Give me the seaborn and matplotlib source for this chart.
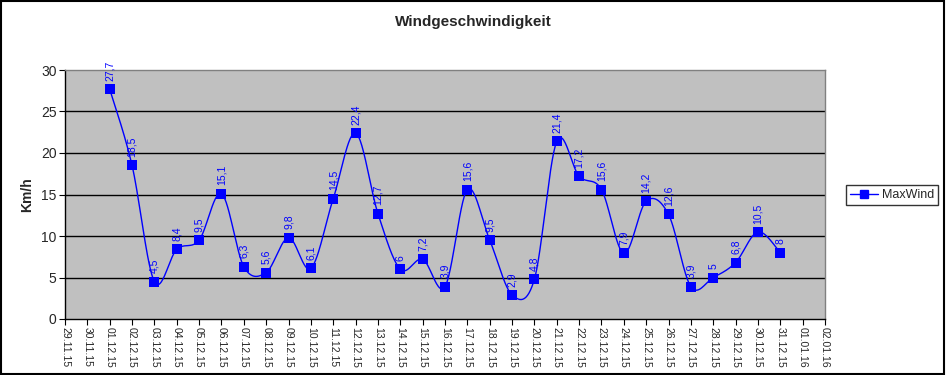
import numpy as np
import pandas as pd
import matplotlib
matplotlib.use("Agg")
import matplotlib.pyplot as plt
import seaborn as sns
from matplotlib.lines import Line2D
from matplotlib.patches import Rectangle

# ---- data ----
dates = ["29.11.15", "30.11.15"] + [f"{d:02d}.12.15" for d in range(1, 32)] + ["01.01.16", "02.01.16"]
value_dates = [f"{d:02d}.12.15" for d in range(1, 32)]
max_wind = [27.7, 18.5, 4.5, 8.4, 9.5, 15.1, 6.3, 5.6, 9.8, 6.1, 14.5, 22.4, 12.7, 6.0, 7.2,
            3.9, 15.6, 9.5, 2.9, 4.8, 21.4, 17.2, 15.6, 7.9, 14.2, 12.6, 3.9, 5.0, 6.8, 10.5, 8.0]
value_labels = ["27,7", "18,5", "4,5", "8,4", "9,5", "15,1", "6,3", "5,6", "9,8", "6,1", "14,5",
                "22,4", "12,7", "6", "7,2", "3,9", "15,6", "9,5", "2,9", "4,8", "21,4", "17,2",
                "15,6", "7,9", "14,2", "12,6", "3,9", "5", "6,8", "10,5", "8"]
title = "Windgeschwindigkeit"
ylabel = "Km/h"
series_name = "MaxWind"

sns.set_theme(style="white")
plt.rcParams['font.family'] = ['Liberation Sans', 'DejaVu Sans']

df = pd.DataFrame({"date": value_dates, "wind": max_wind})
df["x"] = [dates.index(d) for d in df["date"]]

fig = plt.figure(figsize=(9.46, 3.75), dpi=100)
ax = fig.add_axes([65/946, 1-319/375, (825-65)/946, (319-70)/375])
ax.set_facecolor("#C0C0C0")

# smoothed line (Excel-like bezier smoothing rendering)
xs = df["x"].to_numpy(float)
ys = df["wind"].to_numpy(float)
P = np.column_stack([xs, ys])
n = len(P)
curve = []
t = np.linspace(0, 1, 30)
for i in range(n - 1):
    p0 = P[max(i - 1, 0)]
    p1 = P[i]
    p2 = P[i + 1]
    p3 = P[min(i + 2, n - 1)]
    c1 = p1 + (p2 - p0) / 6
    c2 = p2 - (p3 - p1) / 6
    seg = ((1 - t)[:, None] ** 3) * p1 + 3 * ((1 - t)[:, None] ** 2) * t[:, None] * c1 \
        + 3 * (1 - t)[:, None] * (t[:, None] ** 2) * c2 + (t[:, None] ** 3) * p2
    curve.append(seg)
curve = np.vstack(curve)
ax.plot(curve[:, 0], curve[:, 1], color="#0000FF", lw=1.0, zorder=3)

sns.scatterplot(data=df, x="x", y="wind", marker="s", s=42, color="#0000FF",
                edgecolor="#0000FF", linewidth=0, ax=ax, zorder=4, legend=False)

for xv, yv, lab in zip(df["x"], df["wind"], value_labels):
    ax.annotate(lab, (xv, yv), xytext=(0, 6), textcoords="offset points",
                rotation=90, ha="center", va="bottom", fontsize=7.5, color="#0000FF",
                zorder=5, annotation_clip=False)

ax.set_xlim(0, len(dates) - 1)
ax.set_ylim(0, 30)
ax.set_xticks(range(len(dates)))
ax.set_xticklabels(dates, rotation=-90, fontsize=7.5)
ax.set_yticks([0, 5, 10, 15, 20, 25, 30])
ax.set_yticklabels(["0", "5", "10", "15", "20", "25", "30"], fontsize=10)
ax.tick_params(axis="both", which="both", length=4, width=0.8, color="black",
               direction="out", bottom=True, left=True, pad=2)
for yv in [5, 10, 15, 20, 25]:
    ax.axhline(yv, color="black", lw=1.0, zorder=1)
ax.set_xlabel("")
ax.set_ylabel(ylabel, fontsize=10, fontweight="bold", labelpad=5)
for side in ["left", "bottom"]:
    ax.spines[side].set_color("black")
    ax.spines[side].set_linewidth(1.0)
for side in ["top", "right"]:
    ax.spines[side].set_color("#808080")
    ax.spines[side].set_linewidth(1.0)

fig.text(473/946, 1-22/375, title, ha="center", va="center", fontsize=11, fontweight="bold")

handle = Line2D([0], [0], color="#0000FF", lw=1.0, marker="s", markersize=6,
                markerfacecolor="#0000FF", markeredgecolor="#0000FF")
leg = fig.legend([handle], [series_name], loc="center", bbox_to_anchor=(892/946, 1-195/375),
                 frameon=True, fancybox=False, fontsize=9, handlelength=2.2,
                 borderpad=0.35, handletextpad=0.3, borderaxespad=0)
leg.get_frame().set_edgecolor("black")
leg.get_frame().set_linewidth(1.0)
leg.get_frame().set_facecolor("white")

fig.patches.append(Rectangle((0.001, 0.002), 0.997, 0.995, transform=fig.transFigure,
                             fill=False, edgecolor="black", lw=1.5))

fig.savefig("out.png", dpi=100)
